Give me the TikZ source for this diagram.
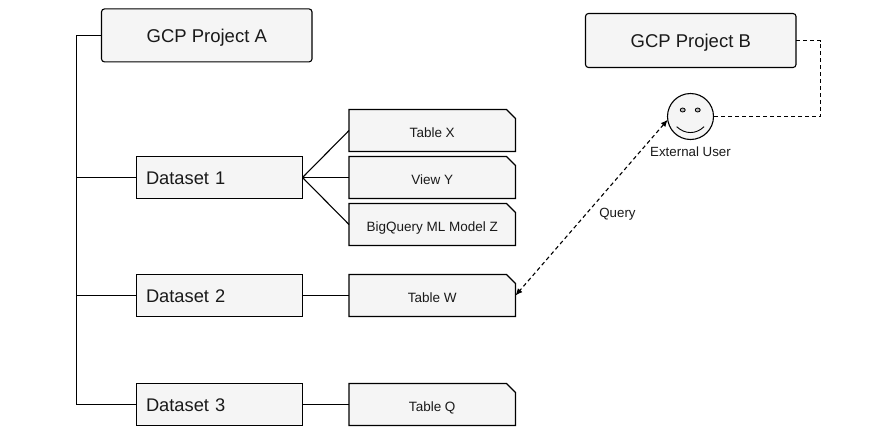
\documentclass[tikz,border=0pt]{standalone}
\usepackage{fontspec}
\setmainfont{Liberation Sans}
\usetikzlibrary{shapes.misc,shapes.geometric,arrows.meta}
\definecolor{boxfill}{HTML}{F5F5F5}
\definecolor{ink}{HTML}{1A1A1A}
\definecolor{eyefill}{HTML}{BDBDBD}
\tikzset{
  every node/.style={inner sep=0pt,outer sep=0pt,text=ink},
  wire/.style={draw=black,line width=1.1pt},
  dashwire/.style={draw=black,line width=1.1pt,dash pattern=on 4pt off 3pt},
  project/.style={draw=black,line width=1.1pt,fill=boxfill,rounded corners=3pt,minimum width=210.5pt,minimum height=53pt,font=\fontsize{18.5}{20}\selectfont,text height=14pt,text depth=0pt},
  dataset/.style={draw=black,line width=1.1pt,fill=boxfill,minimum width=166pt,minimum height=42pt,font=\fontsize{18.3}{20}\selectfont,align=left,text width=147pt,inner xsep=9.5pt,text height=14pt,text depth=0pt},
  tablebox/.style={chamfered rectangle,chamfered rectangle corners=north east,chamfered rectangle xsep=4.5pt,chamfered rectangle ysep=4.5pt,draw=black,line width=1.1pt,fill=boxfill,minimum width=166.5pt,minimum height=42pt,font=\fontsize{13.5}{14}\selectfont,text height=14pt,text depth=0pt},
  face/.style={circle,draw=black,line width=1.1pt,fill=boxfill,minimum size=46pt},
  eye/.style={ellipse,draw=black,line width=0.8pt,fill=eyefill,minimum width=5pt,minimum height=4pt},
  caption/.style={font=\fontsize{13.3}{14}\selectfont}
}
\begin{document}
\begin{tikzpicture}[x=1pt,y=-1pt]
\useasboundingbox[fill=white] (0,0) rectangle (893,432);
% nodes
\node[project] (pa) at (206.75,35.4) {GCP Project A};
\node[project,minimum height=54pt] (pb) at (690.75,40.5) {GCP Project B};
\node[dataset] (d1) at (219.5,177.5) {Dataset 1};
\node[dataset] (d2) at (219.5,295.5) {Dataset 2};
\node[dataset] (d3) at (219.5,404.5) {Dataset 3};
\node[tablebox] (tx) at (432.25,130.5) {Table X};
\node[tablebox] (ty) at (432.25,177.5) {View Y};
\node[tablebox] (tz) at (432.25,224.5) {BigQuery ML Model Z};
\node[tablebox] (tw) at (432.25,295.5) {Table W};
\node[tablebox] (tq) at (432.25,404.5) {Table Q};
\node[face] (user) at (690.5,116.5) {};
\node[eye] (el) at (682.7,110) {};
\node[eye] (er) at (697.7,110) {};
\node[caption] (ulabel) at (690.5,152) {External User};
\node[caption] (qlabel) at (617.5,214) {Query};
\coordinate (t1) at (76.5,35.4);
\coordinate (t2) at (76.5,177.5);
\coordinate (t3) at (76.5,295.5);
\coordinate (t4) at (76.5,404.5);
\coordinate (b1) at (820.5,40.5);
\coordinate (b2) at (820.5,116.5);
\coordinate (sl) at (676.7,126.7);
\coordinate (sr) at (704,126.7);
% connectors
\draw[wire] (pa.west) -- (t1) -- (t4) -- (d3.west);
\draw[wire] (t2) -- (d1.west);
\draw[wire] (t3) -- (d2.west);
\draw[wire] (d1.east) -- (tx.west);
\draw[wire] (d1.east) -- (ty.west);
\draw[wire] (d1.east) -- (tz.west);
\draw[wire] (d2.east) -- (tw.west);
\draw[wire] (d3.east) -- (tq.west);
\draw[dashwire] (pb.east) -- (b1) -- (b2) -- (user.east);
\draw[dashwire,{Latex[length=7pt,width=6pt]}-{Latex[length=7pt,width=6pt]}] (user.188) -- (tw.east);
\draw[line width=0.9pt,black] (sl) .. controls (685,134.5) and (696,134.5) .. (sr);
\end{tikzpicture}
\end{document}
